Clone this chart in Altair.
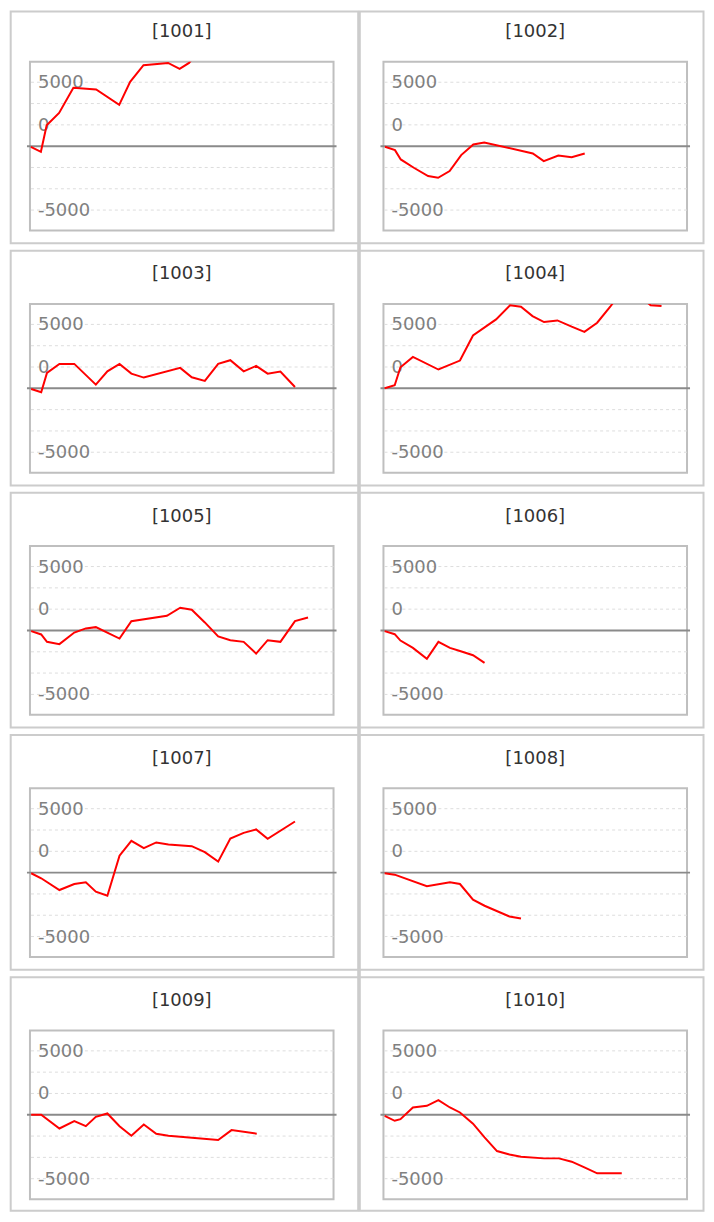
import altair as alt
import pandas as pd

# ---- data (x = position along the period, 0-100) ----
ids = ["1001", "1002", "1003", "1004", "1005", "1006", "1007", "1008", "1009", "1010"]

x_1001 = [0.3, 3.6, 5.5, 9.6, 14.3, 21.8, 29.4, 33.0, 37.4, 45.5, 49.3, 52.4, 54.0]
v_1001 = [-50, -440, 1640, 2600, 4560, 4430, 3230, 5030, 6330, 6510, 6040, 6510, 7000]

x_1002 = [0.5, 3.8, 5.7, 10.0, 14.7, 18.0, 21.8, 25.6, 29.6, 33.2, 49.2, 52.8, 57.6, 62.0, 66.3]
v_1002 = [-50, -310, -1040, -1690, -2340, -2470, -1950, -700, 130, 290, -570, -1170, -730, -860, -570]

x_1003 = [0.4, 3.7, 5.6, 9.7, 14.6, 21.7, 25.5, 29.5, 33.4, 37.5, 49.5, 53.3, 57.6, 62.0, 66.0, 70.4, 74.5, 78.3, 82.5, 87.3]
v_1003 = [-50, -310, 1200, 1910, 1910, 290, 1330, 1910, 1150, 840, 1600, 860, 580, 1910, 2200, 1330, 1750, 1150, 1310, 100]

x_1004 = [0.4, 3.7, 5.6, 9.7, 18.1, 25.2, 29.5, 37.1, 41.7, 45.3, 49.1, 52.9, 57.3, 62.0, 66.2, 70.4, 74.7, 77.5, 84.0, 88.0, 91.6]
v_1004 = [0, 240, 1650, 2460, 1470, 2170, 4130, 5390, 6490, 6380, 5650, 5180, 5310, 4820, 4420, 5130, 6380, 7300, 7300, 6500, 6430]

x_1005 = [0.4, 3.7, 5.6, 9.7, 14.6, 18.4, 21.7, 29.5, 33.4, 45.1, 49.5, 53.3, 57.6, 62.0, 66.0, 70.4, 74.5, 78.3, 82.5, 87.3, 91.6]
v_1005 = [-50, -310, -890, -1070, -160, 160, 260, -630, 730, 1150, 1780, 1620, 630, -470, -760, -890, -1810, -760, -890, 730, 1020]

x_1006 = [0.4, 3.7, 5.6, 9.7, 14.3, 18.1, 21.9, 25.2, 29.5, 33.3]
v_1006 = [-50, -290, -790, -1360, -2220, -890, -1360, -1600, -1940, -2540]

x_1007 = [0.4, 3.7, 9.7, 14.6, 18.4, 21.7, 25.5, 29.5, 33.4, 37.5, 41.6, 45.6, 53.3, 57.6, 62.0, 66.0, 70.4, 74.5, 78.3, 87.3]
v_1007 = [-50, -440, -1360, -890, -760, -1490, -1810, 1330, 2490, 1910, 2360, 2200, 2070, 1600, 860, 2670, 3110, 3380, 2640, 4000]

x_1008 = [0.4, 3.7, 14.3, 21.9, 25.2, 29.5, 33.3, 41.5, 45.3]
v_1008 = [-50, -160, -1070, -760, -890, -2120, -2590, -3430, -3590]

x_1009 = [0.4, 3.7, 9.7, 14.6, 18.4, 21.7, 25.5, 29.5, 33.4, 37.5, 41.6, 45.6, 62.0, 66.4, 74.7]
v_1009 = [0, 0, -1070, -490, -890, -160, 100, -890, -1640, -760, -1480, -1640, -1980, -1200, -1480]

x_1010 = [0.4, 3.7, 5.6, 9.7, 14.3, 18.1, 21.9, 25.2, 29.5, 33.3, 37.4, 41.5, 45.3, 52.9, 57.8, 62.0, 66.2, 70.4, 78.5]
v_1010 = [-80, -470, -340, 570, 700, 1150, 570, 180, -700, -1770, -2840, -3100, -3280, -3410, -3410, -3670, -4110, -4580, -4580]

grid_values = [-5000, -3333, -1667, 1667, 3333, 5000]
label_values = [5000, 1667, -5000]
label_texts = ["5000", "0", "-5000"]

series = {
    "1001": (x_1001, v_1001), "1002": (x_1002, v_1002), "1003": (x_1003, v_1003),
    "1004": (x_1004, v_1004), "1005": (x_1005, v_1005), "1006": (x_1006, v_1006),
    "1007": (x_1007, v_1007), "1008": (x_1008, v_1008), "1009": (x_1009, v_1009),
    "1010": (x_1010, v_1010),
}

# ---- styling ----
W, H = 304, 169
FONT = "DejaVu Sans"
YDOM = [-6600, 6600]
yscale = alt.Scale(domain=YDOM, nice=False, zero=False)
xscale = alt.Scale(domain=[0, 100], nice=False, zero=False)
one = pd.DataFrame({"z": [0]})
grid_df = pd.DataFrame({"g": grid_values})
label_df = pd.DataFrame({"lv": label_values, "lt": label_texts})

ROW_GAP = 73.5
COL_GAP = 50
PITCH = H + ROW_GAP
# frame edges (stroke centres) relative to each plot area, per column / row
FRAME_X = {0: (-19.3, 328.7), 1: (-23.7, 320.5)}


def panel(pid, idx):
    xv, vv = series[pid]
    df = pd.DataFrame({"x": xv, "v": vv})
    col = idx % 2
    row = idx // 2
    fl, fr = FRAME_X[col]
    ft = -50.3 if row == 0 else -53.3
    fb = 180.7 if row == 4 else 181.7

    frame = alt.Chart(one).mark_rect(
        fillOpacity=0, stroke="#cccccc", strokeWidth=2
    ).encode(
        x=alt.value(fl), x2=alt.value(fr), y=alt.value(ft), y2=alt.value(fb)
    )
    grid = alt.Chart(grid_df).mark_rule(
        color="#dddddd", strokeWidth=1, strokeDash=[3, 3]
    ).encode(y=alt.Y("g:Q", scale=yscale, axis=None))
    zero = alt.Chart(one).mark_rule(color="#8a8a8a", strokeWidth=2).encode(
        y=alt.Y("z:Q", scale=yscale, axis=None),
        x=alt.value(-3), x2=alt.value(W + 3),
    )
    labels = alt.Chart(label_df).mark_text(
        align="left", baseline="middle", dy=1, font=FONT, fontSize=18, color="#808080"
    ).encode(
        x=alt.value(8),
        y=alt.Y("lv:Q", scale=yscale, axis=None),
        text="lt:N",
    )
    line = alt.Chart(df).mark_line(color="#ff0000", strokeWidth=2, clip=True).encode(
        x=alt.X("x:Q", scale=xscale, axis=None),
        y=alt.Y("v:Q", scale=yscale, axis=None),
    )
    title = alt.Chart(one).mark_text(
        align="center", baseline="alphabetic", font=FONT, fontSize=18, color="#333333"
    ).encode(
        x=alt.value(W / 2), y=alt.value(-24.6), text=alt.value(f"[{pid}]")
    )
    layers = [frame, grid, zero, labels, line, title]
    if row < 4:
        bx = fr if col == 0 else fl
        band = alt.Chart(one).mark_rule(color="#cccccc", strokeWidth=2).encode(
            x=alt.value(bx), y=alt.value(fb), y2=alt.value(PITCH - 53.3)
        )
        layers.append(band)
    return alt.layer(*layers).properties(width=W, height=H)


charts = [panel(pid, i) for i, pid in enumerate(ids)]

chart = alt.concat(
    *charts, columns=2, spacing={"row": ROW_GAP, "column": COL_GAP}, bounds="flush"
).properties(
    padding=0
).configure_view(
    stroke="#bfbfbf", strokeWidth=2
)

chart.save("out.html", embed_options={"renderer": "svg", "actions": False})
